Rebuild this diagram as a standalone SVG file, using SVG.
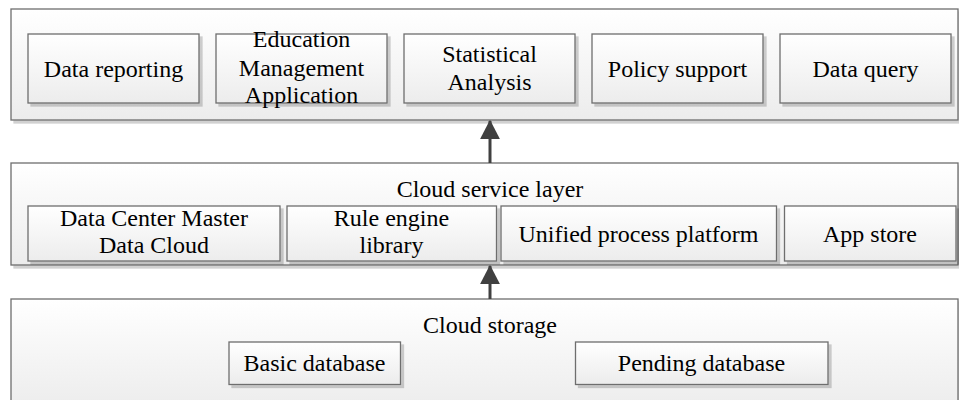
<svg xmlns="http://www.w3.org/2000/svg" width="959" height="400" viewBox="0 0 959 400">
<defs>
<linearGradient id="g" x1="0" y1="0" x2="0" y2="1">
<stop offset="0" stop-color="#ffffff"/>
<stop offset="1" stop-color="#ececec"/>
</linearGradient>
<marker id="ah" markerWidth="6.4" markerHeight="6.6" refX="6" refY="3.3" orient="auto" markerUnits="strokeWidth">
<path d="M0,0 L6.4,3.3 L0,6.6 Z" fill="#404040"/>
</marker>
<filter id="ds" x="-5%" y="-5%" width="115%" height="130%">
<feOffset dx="3" dy="3" in="SourceAlpha" result="o"/>
<feFlood flood-color="#000" flood-opacity="0.18"/>
<feComposite in2="o" operator="in" result="s"/>
<feMerge><feMergeNode in="s"/><feMergeNode in="SourceGraphic"/></feMerge>
</filter>
</defs>
<style>
.b{fill:url(#g);stroke:#6e6e6e;stroke-width:1.3;filter:url(#ds)}
.t{font-family:'Liberation Serif','Times New Roman',serif;font-size:24px;fill:#000;text-anchor:middle}
.ar{stroke:#404040;stroke-width:3;fill:none;marker-end:url(#ah)}
</style>
<g id="layer-app">
<rect class="b" x="11" y="9" width="947" height="111"/>
</g>
<g id="layer-service">
<rect class="b" x="11" y="163" width="947" height="102"/>
<text class="t" x="490" y="197">Cloud service layer</text>
</g>
<g id="layer-storage">
<rect class="b" x="11" y="299" width="947" height="110"/>
<text class="t" x="490" y="333">Cloud storage</text>
</g>
<g id="data-reporting">
<rect class="b" x="28" y="34" width="171" height="69"/>
<text class="t" x="113.5" y="76.5">Data reporting</text>
</g>
<g id="education">
<rect class="b" x="216" y="34" width="171" height="69"/>
<text class="t" x="301.5" y="47">Education</text>
<text class="t" x="301.5" y="76">Management</text>
<text class="t" x="301.5" y="103">Application</text>
</g>
<g id="statistical">
<rect class="b" x="404" y="34" width="171" height="69"/>
<text class="t" x="489.5" y="62">Statistical</text>
<text class="t" x="489.5" y="90">Analysis</text>
</g>
<g id="policy">
<rect class="b" x="592" y="34" width="171" height="69"/>
<text class="t" x="677.5" y="76.5">Policy support</text>
</g>
<g id="data-query">
<rect class="b" x="780" y="34" width="171" height="69"/>
<text class="t" x="865.5" y="76.5">Data query</text>
</g>
<g id="data-center">
<rect class="b" x="28" y="206" width="252" height="55"/>
<text class="t" x="154" y="226">Data Center Master</text>
<text class="t" x="154" y="253">Data Cloud</text>
</g>
<g id="rule-engine">
<rect class="b" x="287" y="206" width="209.5" height="55"/>
<text class="t" x="391.5" y="226">Rule engine</text>
<text class="t" x="391.5" y="253">library</text>
</g>
<g id="unified">
<rect class="b" x="501" y="206" width="275.5" height="55"/>
<text class="t" x="638.5" y="242">Unified process platform</text>
</g>
<g id="app-store">
<rect class="b" x="784.5" y="206" width="171.5" height="55"/>
<text class="t" x="870" y="242">App store</text>
</g>
<g id="basic-db">
<rect class="b" x="229" y="342" width="171.5" height="42.5"/>
<text class="t" x="314.5" y="370.5">Basic database</text>
</g>
<g id="pending-db">
<rect class="b" x="575.5" y="342" width="252.5" height="42.5"/>
<text class="t" x="701.5" y="370.5">Pending database</text>
</g>
<g id="connectors">
<line class="ar" x1="490" y1="163" x2="490" y2="121"/>
<line class="ar" x1="490" y1="299" x2="490" y2="266"/>
</g>
</svg>
